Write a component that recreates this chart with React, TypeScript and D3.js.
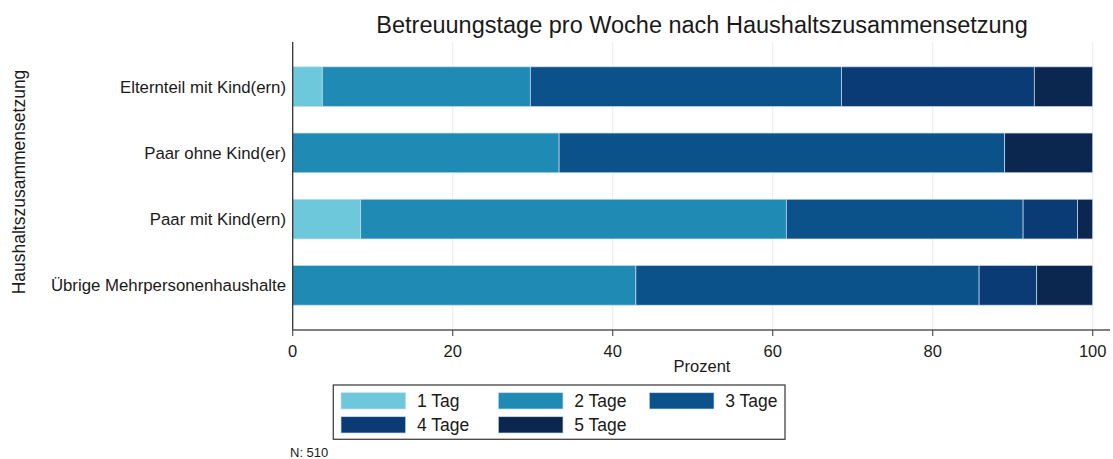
import { scaleBand, scaleLinear, stack } from "d3";

const categories = [
  "Elternteil mit Kind(ern)",
  "Paar ohne Kind(er)",
  "Paar mit Kind(ern)",
  "Übrige Mehrpersonenhaushalte",
];

const seriesNames = ["1 Tag", "2 Tage", "3 Tage", "4 Tage", "5 Tage"];

// percent shares per category, one array per series
const tag1 = [3.7, 0, 8.5, 0];
const tag2 = [26.0, 33.3, 53.2, 42.9];
const tag3 = [38.9, 55.7, 29.6, 42.9];
const tag4 = [24.1, 0, 6.8, 7.2];
const tag5 = [7.3, 11.0, 1.9, 7.0];

const xTicks = [0, 20, 40, 60, 80, 100];

const colors = ["#6dc8db", "#1f8bb4", "#0b518a", "#0a3b75", "#0b274f"];

const FONT = "'Liberation Sans', Arial, sans-serif";

export default function App() {
  const width = 1113;
  const height = 459;
  const plot = { left: 292.7, right: 1110, top: 42, bottom: 330 };

  const x = scaleLinear().domain([0, 100]).range([plot.left, plot.left + 800]);
  const y = scaleBand<string>()
    .domain(categories)
    .range([plot.top, plot.bottom])
    .paddingInner(0.4)
    .paddingOuter(0.375);

  const rows = categories.map((cat, i) => ({
    cat,
    "1 Tag": tag1[i],
    "2 Tage": tag2[i],
    "3 Tage": tag3[i],
    "4 Tage": tag4[i],
    "5 Tage": tag5[i],
  }));
  const layers = stack<any>().keys(seriesNames)(rows);

  const legendPos = [
    { x: 341, y: 392.7 },
    { x: 498.3, y: 392.7 },
    { x: 649.3, y: 392.7 },
    { x: 341, y: 416.7 },
    { x: 498.3, y: 416.7 },
  ];

  return (
    <svg
      width={width}
      height={height}
      viewBox={`0 0 ${width} ${height}`}
      style={{ position: "absolute", left: 0, top: 0, background: "#fff" }}
      fontFamily={FONT}
    >
      <text
        x={702}
        y={33}
        textAnchor="middle"
        fontSize={23.5}
        fill="#1a1a1a"
      >
        Betreuungstage pro Woche nach Haushaltszusammensetzung
      </text>

      {/* grid */}
      {xTicks.slice(1).map((t) => (
        <line
          key={`g-${t}`}
          x1={x(t)}
          x2={x(t)}
          y1={plot.top}
          y2={plot.bottom}
          stroke="#e8f0f3"
          strokeWidth={1.2}
        />
      ))}

      {/* bars */}
      {layers.map((layer, li) => (
        <g key={seriesNames[li]} fill={colors[li]}>
          {layer.map((d, i) =>
            d[1] - d[0] > 0 ? (
              <rect
                key={i}
                x={x(d[0])}
                y={y(categories[i])}
                width={x(d[1]) - x(d[0])}
                height={y.bandwidth()}
                stroke="#c9dde8"
                strokeWidth={0.7}
              />
            ) : null,
          )}
        </g>
      ))}

      {/* axes */}
      <line
        x1={plot.left}
        x2={plot.left}
        y1={plot.top}
        y2={plot.bottom}
        stroke="#333"
        strokeWidth={1.3}
      />
      <line
        x1={plot.left}
        x2={plot.right}
        y1={plot.bottom}
        y2={plot.bottom}
        stroke="#555"
        strokeWidth={1.3}
      />
      {xTicks.map((t) => (
        <g key={`t-${t}`}>
          <line
            x1={x(t)}
            x2={x(t)}
            y1={plot.bottom}
            y2={plot.bottom + 6}
            stroke="#555"
            strokeWidth={1.2}
          />
          <text
            x={x(t)}
            y={357}
            textAnchor="middle"
            fontSize={16.5}
            fill="#1a1a1a"
          >
            {t}
          </text>
        </g>
      ))}
      <text x={702} y={372} textAnchor="middle" fontSize={16.5} fill="#1a1a1a">
        Prozent
      </text>

      {categories.map((c) => (
        <text
          key={c}
          x={286}
          y={(y(c) ?? 0) + y.bandwidth() / 2}
          dy="0.35em"
          textAnchor="end"
          fontSize={16.8}
          fill="#1a1a1a"
        >
          {c}
        </text>
      ))}
      <text
        transform="translate(25,182) rotate(-90)"
        textAnchor="middle"
        fontSize={17.5}
        fill="#1a1a1a"
      >
        Haushaltszusammensetzung
      </text>

      {/* legend */}
      <rect
        x={333.3}
        y={385}
        width={451.7}
        height={54.3}
        fill="#fff"
        stroke="#444"
        strokeWidth={1.3}
      />
      {seriesNames.map((s, i) => (
        <g key={s}>
          <rect
            x={legendPos[i].x}
            y={legendPos[i].y}
            width={64.7}
            height={16.3}
            fill={colors[i]}
            stroke="#c9dde8"
            strokeWidth={0.7}
          />
          <text
            x={legendPos[i].x + 76}
            y={legendPos[i].y + 8.2}
            dy="0.35em"
            fontSize={17.5}
            fill="#1a1a1a"
          >
            {s}
          </text>
        </g>
      ))}

      <text x={290} y={457} fontSize={13} fill="#1a1a1a">
        N: 510
      </text>
    </svg>
  );
}
